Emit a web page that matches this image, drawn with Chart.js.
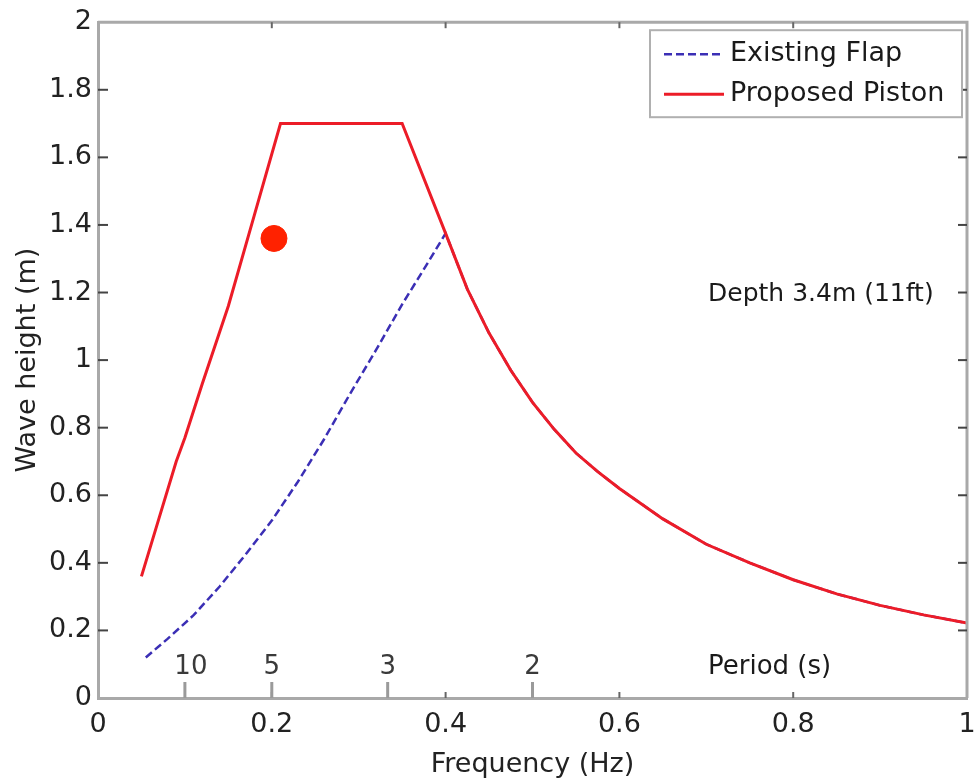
<!DOCTYPE html>
<html>
<head>
<meta charset="utf-8">
<title>Wave height vs frequency</title>
<script src="https://cdn.jsdelivr.net/npm/chart.js@4.4.0/dist/chart.umd.min.js"></script>
<style>
  html, body { margin: 0; padding: 0; background: #fff; overflow: hidden; }
  canvas { display: block; }
</style>
</head>
<body>
<canvas id="waveChart" width="974" height="781"></canvas>
<script>
// ===== Data =====
const flapFreq   = [0.055, 0.08, 0.11, 0.14, 0.17, 0.20, 0.23, 0.26, 0.29, 0.32, 0.35, 0.38, 0.40,
                    0.425, 0.45, 0.475, 0.50, 0.525, 0.55, 0.575, 0.60, 0.65, 0.70, 0.75, 0.80, 0.85, 0.90, 0.95, 1.00];
const flapHeight = [0.12, 0.175, 0.245, 0.33, 0.425, 0.525, 0.64, 0.765, 0.90, 1.03, 1.165, 1.29, 1.375,
                    1.21, 1.08, 0.97, 0.875, 0.795, 0.725, 0.67, 0.62, 0.53, 0.455, 0.40, 0.35, 0.308, 0.274, 0.246, 0.222];

const pistonFreq   = [0.05, 0.07, 0.09, 0.10, 0.12, 0.15, 0.18, 0.21, 0.35, 0.40,
                      0.425, 0.45, 0.475, 0.50, 0.525, 0.55, 0.575, 0.60, 0.65, 0.70, 0.75, 0.80, 0.85, 0.90, 0.95, 1.00];
const pistonHeight = [0.36, 0.53, 0.70, 0.77, 0.93, 1.16, 1.43, 1.70, 1.70, 1.375,
                      1.21, 1.08, 0.97, 0.875, 0.795, 0.725, 0.67, 0.62, 0.53, 0.455, 0.40, 0.35, 0.308, 0.274, 0.246, 0.222];

const measuredFreq   = [0.2025];
const measuredHeight = [1.36];

const xTickValues = [0, 0.2, 0.4, 0.6, 0.8, 1];
const yTickValues = [0, 0.2, 0.4, 0.6, 0.8, 1, 1.2, 1.4, 1.6, 1.8, 2];

const periodSeconds = [10, 5, 3, 2];
const periodLabels  = ['10', '5', '3', '2'];

const depthNote = 'Depth 3.4m (11ft)';
const depthNoteAt = { x: 0.702, y: 1.195 };
const periodTitle = 'Period (s)';
const periodTitleAt = 0.702;

// ===== Styles =====
const FONT = '"DejaVu Sans", "Liberation Sans", sans-serif';
const axisColor = '#a9a9a9';
const flapColor = '#3b2fb5';
const pistonColor = '#ec1c28';

const toPoints = (xs, ys) => xs.map((v, i) => ({ x: v, y: ys[i] }));
const tickText = v => String(+v.toFixed(1));   // 0, 0.2, ... 1 (no trailing ".0")

/* ===== Inward ticks, box frame, x labels, period axis, notes and legend ===== */
const matlabFrame = {
  id: 'matlabFrame',
  afterDraw(chart) {
    const { ctx, chartArea: a, scales: { x, y } } = chart;
    const line = (x1, y1, x2, y2) => { ctx.beginPath(); ctx.moveTo(x1, y1); ctx.lineTo(x2, y2); ctx.stroke(); };
    ctx.save();

    // top + right edges of the box
    ctx.strokeStyle = axisColor;
    ctx.lineWidth = 3;
    ctx.beginPath();
    ctx.moveTo(a.left, a.top);
    ctx.lineTo(a.right, a.top);
    ctx.lineTo(a.right, a.bottom);
    ctx.stroke();

    // inward ticks
    ctx.lineWidth = 2;
    ctx.strokeStyle = '#666';
    xTickValues.slice(1, -1).forEach(v => {
      const px = x.getPixelForValue(v);
      line(px, a.bottom, px, a.bottom - 6);
      line(px, a.top, px, a.top + 6);
    });
    ctx.strokeStyle = '#444';
    yTickValues.slice(1, -1).forEach(v => {
      const py = y.getPixelForValue(v);
      line(a.left, py, a.left + 10, py);
      line(a.right, py, a.right - 9, py);
    });

    // x tick labels (drawn here so "1" can hang off the edge like the original)
    ctx.fillStyle = '#222';
    ctx.font = '27px ' + FONT;
    ctx.textAlign = 'center';
    ctx.textBaseline = 'middle';
    xTickValues.forEach(v => {
      ctx.fillText(tickText(v), x.getPixelForValue(v), a.bottom + 27);
    });

    // period axis along the bottom
    ctx.strokeStyle = '#9a9a9a';
    ctx.lineWidth = 3;
    ctx.fillStyle = '#3a3a3a';
    ctx.font = '26px ' + FONT;
    periodSeconds.forEach((t, i) => {
      const px = x.getPixelForValue(1 / t);
      line(px, a.bottom, px, a.bottom - 16);
      ctx.fillText(periodLabels[i], px + (i === 0 ? 6 : 0), a.bottom - 31);
    });
    ctx.fillStyle = '#1a1a1a';
    ctx.textAlign = 'left';
    ctx.fillText(periodTitle, x.getPixelForValue(periodTitleAt), a.bottom - 31);

    // depth note
    ctx.font = '25px ' + FONT;
    ctx.fillText(depthNote, x.getPixelForValue(depthNoteAt.x), y.getPixelForValue(depthNoteAt.y));

    // legend box
    const items = chart.data.datasets.filter(d => d.label);
    const box = { left: a.right - 317, top: a.top + 8, width: 312, height: 87 };
    ctx.fillStyle = '#fff';
    ctx.fillRect(box.left, box.top, box.width, box.height);
    ctx.strokeStyle = '#b0b0b0';
    ctx.lineWidth = 2;
    ctx.strokeRect(box.left, box.top, box.width, box.height);
    ctx.font = '27px ' + FONT;
    items.forEach((d, i) => {
      const cy = box.top + 24 + i * 40;
      ctx.strokeStyle = d.borderColor;
      ctx.lineWidth = d.borderWidth;
      ctx.setLineDash(d.borderDash || []);
      line(box.left + 14, cy, box.left + 74, cy);
      ctx.setLineDash([]);
      ctx.fillStyle = '#1a1a1a';
      ctx.fillText(d.label, box.left + 80, cy);
    });

    ctx.restore();
  }
};

const ctx = document.getElementById('waveChart');
new Chart(ctx, {
  type: 'line',
  data: {
    datasets: [
      {
        label: 'Existing Flap',
        data: toPoints(flapFreq, flapHeight),
        borderColor: flapColor,
        borderWidth: 2.5,
        borderDash: [8, 4],
        pointRadius: 0,
        tension: 0,
        order: 2
      },
      {
        label: 'Proposed Piston',
        data: toPoints(pistonFreq, pistonHeight),
        borderColor: pistonColor,
        borderWidth: 3,
        pointRadius: 0,
        tension: 0,
        order: 1
      },
      {
        type: 'scatter',
        data: toPoints(measuredFreq, measuredHeight),
        backgroundColor: '#ff2200',
        borderColor: '#ff2200',
        pointRadius: 13,
        order: 0
      }
    ]
  },
  options: {
    responsive: false,
    animation: false,
    // autoPadding off: the big marker would otherwise push the plot edge in
    layout: { autoPadding: false, padding: { top: 20, right: 7, left: 0, bottom: 0 } },
    plugins: {
      legend: { display: false },
      tooltip: { enabled: false }
    },
    scales: {
      x: {
        type: 'linear',
        min: 0,
        max: 1,
        afterBuildTicks: scale => { scale.ticks = xTickValues.map(v => ({ value: v })); },
        afterFit: scale => { scale.height = 83; },
        grid: { display: false, drawTicks: false },
        border: { display: true, color: axisColor, width: 3 },
        ticks: { display: false },
        title: { display: true, text: 'Frequency (Hz)', font: { family: FONT, size: 27 }, color: '#222', padding: 0 }
      },
      y: {
        type: 'linear',
        min: 0,
        max: 2,
        afterBuildTicks: scale => { scale.ticks = yTickValues.map(v => ({ value: v })); },
        afterFit: scale => { scale.width = 98; },
        grid: { display: false, drawTicks: false },
        border: { display: true, color: axisColor, width: 3 },
        ticks: { font: { family: FONT, size: 27 }, color: '#222', padding: 6, callback: tickText },
        title: { display: true, text: 'Wave height (m)', font: { family: FONT, size: 27 }, color: '#222', padding: { top: 12, bottom: 0 } }
      }
    }
  },
  plugins: [matlabFrame]
});
</script>
</body>
</html>
